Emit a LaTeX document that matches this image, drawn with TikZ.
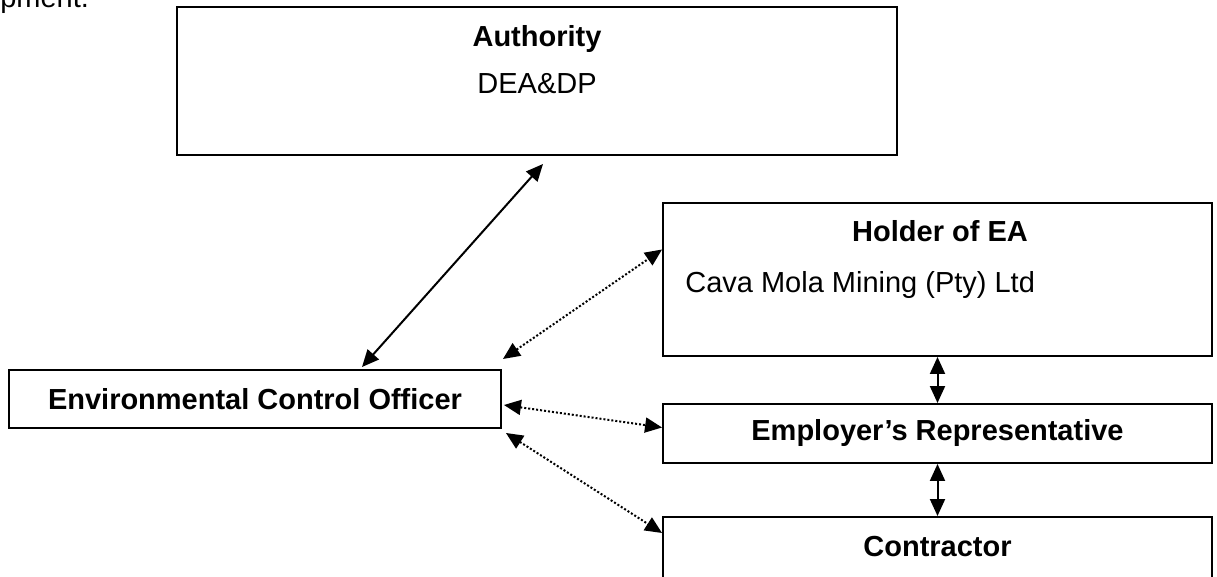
\documentclass[tikz,border=0pt]{standalone}
\usepackage{fontspec}
\setmainfont{Liberation Sans}
\usetikzlibrary{arrows.meta, positioning, calc}

\begin{document}
\begin{tikzpicture}[x=0.02cm, y=-0.02cm,
        box/.style={draw=black, line width=0.04cm, inner sep=0pt,
                    font=\fontsize{16.5pt}{19pt}\selectfont\bfseries},
        boldtext/.style={font=\fontsize{16.5pt}{19pt}\selectfont\bfseries, inner sep=0pt},
        plaintext/.style={font=\fontsize{16.5pt}{19pt}\selectfont, inner sep=0pt},
        arr/.style={{Triangle[length=0.34cm, width=0.3cm]}-{Triangle[length=0.34cm, width=0.3cm]},
                    line width=0.04cm},
        dotarr/.style={arr, dash pattern=on 0.04cm off 0.04cm}
      ]
  \useasboundingbox (0,0) rectangle (1217,577);

  % text left over from the page above
  \node[plaintext, anchor=base west] (prev) at (0,8) {pment.};

  % boxes
  \node[box, minimum width=14.4cm, minimum height=2.96cm] (auth) at (537,81) {};
  \node[boldtext, anchor=base] (authtitle) at (537,47) {Authority};
  \node[plaintext, anchor=base] (authname) at (537,94) {DEA\&DP};

  \node[box, minimum width=10.98cm, minimum height=3.06cm] (holder) at (937.5,279.5) {};
  \node[boldtext, anchor=base] (holdertitle) at (940,242) {Holder of EA};
  \node[plaintext, anchor=base west] (holdername) at (685,293) {Cava Mola Mining (Pty) Ltd};

  \node[box, minimum width=10.98cm, minimum height=1.18cm] (emp) at (937.5,433.5)
    {Employer’s Representative};

  \node[box, minimum width=10.98cm, minimum height=2cm, anchor=north] (con) at (937.5,516) {};
  \node[boldtext, anchor=base] (contitle) at (937.5,556) {Contractor};

  \node[box, minimum width=9.84cm, minimum height=1.16cm] (eco) at (255,399)
    {Environmental Control Officer};

  % connectors
  \draw[arr] ($(eco.north)+(107,-2)$) -- ($(auth.south)+(6,8)$);
  \draw[dotarr] ($(eco.north east)+(1,-10)$) -- ($(holder.west)+(0,-30)$);
  \draw[dotarr] ($(eco.east)+(2,6)$) -- ($(emp.west)+(0,-6)$);
  \draw[dotarr] ($(eco.south east)+(4,4)$) -- ($(con.north west)+(0,17)$);
  \draw[arr] (holder.south) -- (holder.south |- emp.north);
  \draw[arr] (emp.south) -- (emp.south |- con.north);
\end{tikzpicture}
\end{document}
